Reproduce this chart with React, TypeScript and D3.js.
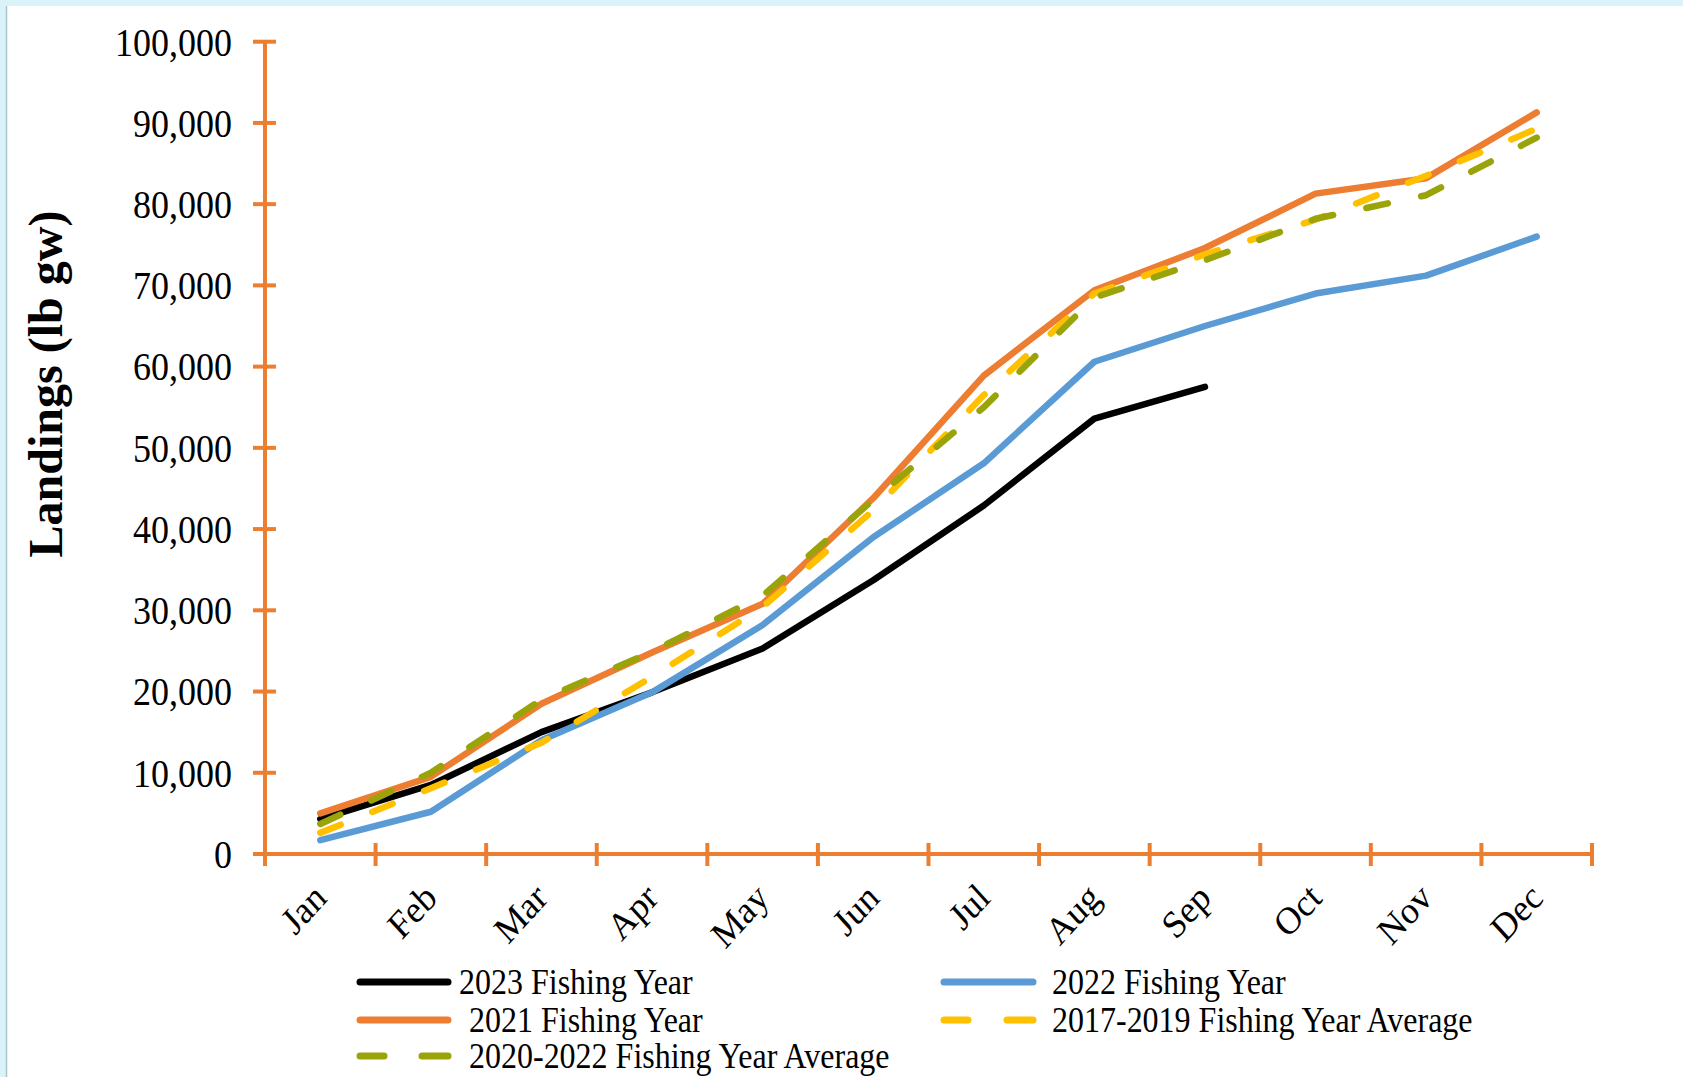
import * as d3 from 'd3'

const months = ['Jan', 'Feb', 'Mar', 'Apr', 'May', 'Jun', 'Jul', 'Aug', 'Sep', 'Oct', 'Nov', 'Dec']

const fy2023 = [4300, 8500, 15000, 19900, 25300, 33700, 42900, 53600, 57500]
const fy2022 = [1700, 5200, 14000, 19900, 28200, 39000, 48100, 60600, 65000, 69000, 71200, 76000]
const fy2021 = [5000, 9500, 18500, 24800, 30800, 43800, 58900, 69400, 74600, 81300, 83200, 91300]
const avg1719 = [2600, 8100, 13700, 21800, 30400, 42300, 56500, 69000, 73800, 78100, 83500, 89300]
const avg2022 = [3700, 10000, 19000, 24900, 31800, 43600, 55000, 68500, 73100, 78200, 81100, 88200]

const yTicks = [0, 10000, 20000, 30000, 40000, 50000, 60000, 70000, 80000, 90000, 100000]

type Series = { name: string, values: number[], color: string, dashed: boolean }

const series: Series[] = [
  { name: '2023 Fishing Year', values: fy2023, color: '#000000', dashed: false },
  { name: '2022 Fishing Year', values: fy2022, color: '#5b9bd5', dashed: false },
  { name: '2021 Fishing Year', values: fy2021, color: '#ed7d31', dashed: false },
  { name: '2017-2019 Fishing Year Average', values: avg1719, color: '#ffc000', dashed: true },
  { name: '2020-2022 Fishing Year Average', values: avg2022, color: '#9aa40a', dashed: true },
]

// legend slots (col, row) in the order the series are listed
const legendSlots = [[0, 0], [1, 0], [0, 1], [1, 1], [0, 2]]

const W = 1683
const H = 1077
const axisColor = '#ed7d31'
const font = '"Liberation Serif", "Times New Roman", serif'
// the source text looks a little stretched vertically
const sy = 1.1

export default function App() {
  const x = d3.scaleBand<string>().domain(months).range([265, 1592])
  const y = d3.scaleLinear().domain([0, 100000]).range([854, 41.7])
  const cx = (i: number) => (x(months[i]) ?? 0) + x.bandwidth() / 2
  const line = d3.line<number>().x((_, i) => cx(i)).y(d => y(d))
  const fmt = d3.format(',')
  const boundaries = [...months.map(m => x(m) ?? 0), x.range()[1]]

  const legendCols = [{ line0: 357, line1: 451, text: [459, 469, 469] }, { line0: 941, line1: 1036, text: [1052, 1052, 1052] }]
  const legendRows = [982, 1020, 1056]

  return (
    <svg width={W} height={H} style={{ position: 'absolute', left: 0, top: 0, background: '#fff' }} fontFamily={font}>
      <rect x={0} y={0} width={W} height={6} fill="#daf3f8" />
      <rect x={0} y={0} width={6} height={H} fill="#daf3f8" />
      <line x1={6.5} x2={6.5} y1={6} y2={H} stroke="#a9c4cc" strokeWidth={1.5} />

      {/* y axis */}
      <line x1={x.range()[0]} x2={x.range()[0]} y1={y(100000)} y2={y(0)} stroke={axisColor} strokeWidth={4} />
      {yTicks.map(t => (
        <g key={t}>
          <line x1={x.range()[0] - 12} x2={x.range()[0] + 11} y1={y(t)} y2={y(t)} stroke={axisColor} strokeWidth={4} />
          <text transform={`translate(232,${y(t)}) scale(1,${sy})`} dy="0.35em" textAnchor="end" fontSize={36} fill="#000">{fmt(t)}</text>
        </g>
      ))}

      {/* x axis */}
      <line x1={x.range()[0] - 12} x2={x.range()[1]} y1={y(0)} y2={y(0)} stroke={axisColor} strokeWidth={4} />
      {boundaries.map((b, i) => (
        <line key={i} x1={b} x2={b} y1={y(0) - 11} y2={y(0) + 12} stroke={axisColor} strokeWidth={4} />
      ))}
      {months.map((m, i) => (
        <text key={m} transform={`translate(${cx(i) + 8},${y(0) + 46}) scale(1,${sy}) rotate(-45)`} textAnchor="end" fontSize={35} fill="#000">{m}</text>
      ))}

      <text transform={`translate(62,384) rotate(-90)`} textAnchor="middle" fontSize={48} fontWeight="bold" fill="#000">Landings (lb gw)</text>

      {/* series */}
      {series.map(s => (
        <path key={s.name} d={line(s.values) ?? ''} fill="none" stroke={s.color} strokeWidth={6.5}
          strokeLinejoin="round" strokeLinecap="round" strokeDasharray={s.dashed ? '22 34' : undefined} />
      ))}

      {/* legend */}
      {series.map((s, i) => {
        const [c, r] = legendSlots[i]
        const col = legendCols[c]
        const ly = legendRows[r]
        return (
          <g key={s.name}>
            {s.dashed ? (
              <>
                <line x1={col.line0 + 3} x2={col.line0 + 27} y1={ly} y2={ly} stroke={s.color} strokeWidth={7} strokeLinecap="round" />
                <line x1={col.line1 - 29} x2={col.line1 - 3} y1={ly} y2={ly} stroke={s.color} strokeWidth={7} strokeLinecap="round" />
              </>
            ) : (
              <line x1={col.line0 + 3} x2={col.line1 - 3} y1={ly} y2={ly} stroke={s.color} strokeWidth={7} strokeLinecap="round" />
            )}
            <text transform={`translate(${col.text[r]},${ly}) scale(1,${sy})`} dy="0.35em" fontSize={32} fill="#000">{s.name}</text>
          </g>
        )
      })}
    </svg>
  )
}
